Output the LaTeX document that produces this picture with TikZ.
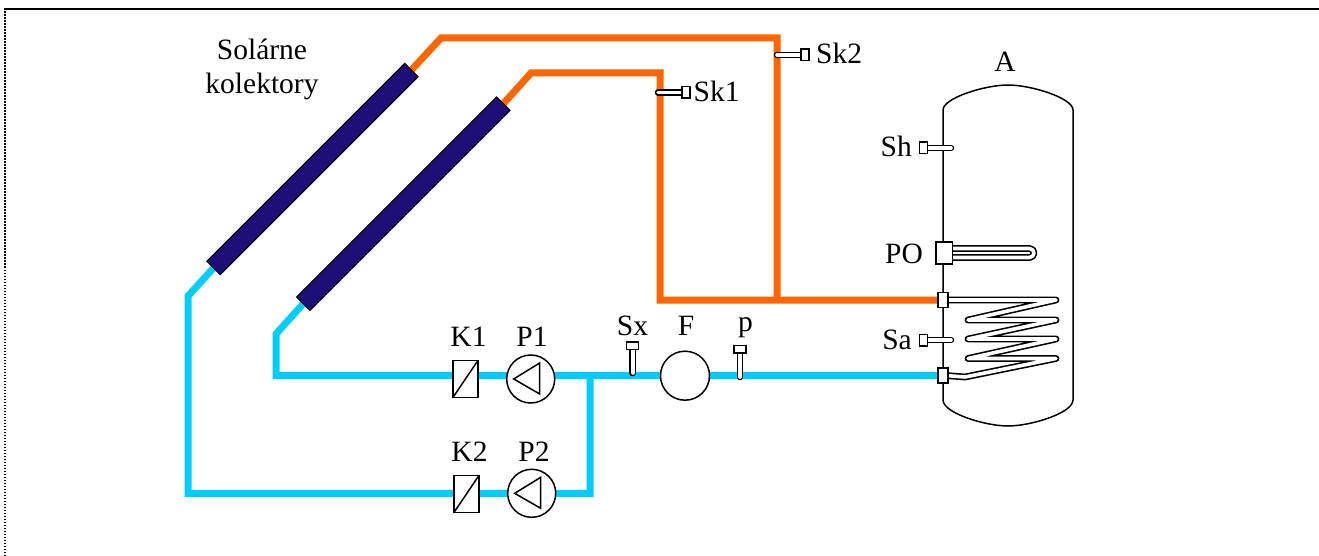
\documentclass[tikz,border=0pt]{standalone}
\usepackage{fontspec}
\setmainfont{Liberation Serif}
\usepackage{xcolor}
\usetikzlibrary{backgrounds}
\definecolor{hotpipe}{RGB}{255,102,0}
\definecolor{coldpipe}{RGB}{0,204,255}
\definecolor{panel}{RGB}{30,15,120}
\tikzset{
  lab/.style={inner sep=0pt,font=\fontsize{29.5}{32}\selectfont,text=black},
  hot/.style={draw=hotpipe,line width=7pt,line join=miter},
  cold/.style={draw=coldpipe,line width=7pt,line join=miter},
  collector/.style={draw=black,line width=1pt,fill=panel,rotate=45,minimum height=19pt,inner sep=0pt,outer sep=0pt},
  valve/.style={draw=black,line width=1.5pt,fill=white,minimum width=25pt,minimum height=37pt,inner sep=0pt,outer sep=0pt},
  pumpbox/.style={circle,draw=black,line width=1.5pt,fill=white,minimum size=48pt,inner sep=0pt,outer sep=0pt},
  socket/.style={draw=black,line width=1.5pt,fill=white,inner sep=0pt,outer sep=0pt},
  probe/.style={draw=black,line width=1.5pt,double=white,double distance=3.6pt,line cap=round},
  tube/.style={draw=black,line width=1.6pt,double=white,double distance=3.6pt,line join=round,line cap=round}
}

\begin{document}
\begin{tikzpicture}[x=1pt,y=-1pt]
    \useasboundingbox (0,0) rectangle (1319,556);

    % frame
    \coordinate (frameA) at (5,556);
    \coordinate (frameB) at (5,9);
    \coordinate (frameC) at (1319,9);
    \draw[line width=1.8pt,dash pattern=on 1.5pt off 1.5pt] (frameA) -- (frameB);
    \draw[line width=2pt] (4,9) -- (frameC);

    % collectors
    \node[collector,minimum width=280pt] (col1) at (312.5,169) {};
    \node[collector,minimum width=283pt] (col2) at (403.3,203.7) {};

    % valves and pumps
    \foreach \vname/\vx/\vy in {k1/465.3/379.2,k2/466.3/494.2} {
      \node[valve] (\vname) at (\vx,\vy) {};
      \draw[line width=1.5pt] (\vname.south west) -- (\vname.north east);
    }
    \foreach \pname/\px/\py in {p1/530.7/379,p2/531.7/493.3} {
      \node[pumpbox] (\pname) at (\px,\py) {};
      \draw[line width=1.5pt,line join=miter] (\px-17,\py) -- (\px+9,\py-16) -- (\px+9,\py+15) -- cycle;
    }
    \node[pumpbox,minimum size=49pt] (filter) at (685,375.7) {};

    % sensors
    \node[socket,minimum width=8pt,minimum height=11.5pt] (sk1) at (686,92.5) {};
    \node[socket,minimum width=8pt,minimum height=11.5pt] (sk2) at (805,55) {};
    \node[socket,minimum width=8pt,minimum height=11.5pt] (sh) at (923.3,148) {};
    \node[socket,minimum width=8pt,minimum height=11.5pt] (sa) at (923.3,340) {};
    \node[socket,minimum width=12pt,minimum height=7.5pt] (sx) at (632.7,345.5) {};
    \node[socket,minimum width=12pt,minimum height=7.5pt] (sp) at (740,349) {};

    % tank fittings
    \node[socket,minimum width=16.5pt,minimum height=22pt] (po) at (944.3,253) {};
    \node[socket,minimum width=10pt,minimum height=15pt] (coilin) at (942.8,300) {};
    \node[socket,minimum width=10pt,minimum height=15pt] (coilout) at (942.8,375.7) {};

    % pipe branches
    \coordinate (joint) at (590,375.7);
    \coordinate (hot1) at (441,38);
    \coordinate (hot2) at (777,38);
    \coordinate (hot3) at (531,73);
    \coordinate (hot4) at (660,73);
    \coordinate (hot5) at (660,300);
    \coordinate (hot6) at (777,300);
    \coordinate (cold1) at (188,296);
    \coordinate (cold2) at (188,493.3);
    \coordinate (cold3) at (590,493.3);
    \coordinate (cold4) at (276,334);
    \coordinate (cold5) at (276,375.7);

    % labels
    \node[lab,anchor=base] (solar1) at (262,60) {Solárne};
    \node[lab,anchor=base] (solar2) at (262,94) {kolektory};
    \node[lab,anchor=base] (lk1) at (468.5,346.5) {K1};
    \node[lab,anchor=base] (lp1) at (532,346.5) {P1};
    \node[lab,anchor=base] (lk2) at (469.5,461) {K2};
    \node[lab,anchor=base] (lp2) at (534,461) {P2};
    \node[lab,anchor=base] (lsx) at (632.5,335) {Sx};
    \node[lab,anchor=base] (lf) at (686,335) {F};
    \node[lab,anchor=base] (lp) at (745.5,331.5) {p};
    \node[lab,anchor=base west] (lsk1) at (693.5,102) {Sk1};
    \node[lab,anchor=base west] (lsk2) at (816,64) {Sk2};
    \node[lab,anchor=base] (la) at (1005,71.5) {A};
    \node[lab,anchor=base east] (lsh) at (912,157) {Sh};
    \node[lab,anchor=base east] (lpo) at (923,263) {PO};
    \node[lab,anchor=base east] (lsa) at (912,349) {Sa};

    \begin{pgfonlayer}{background}
      % tank
      \draw[line width=1.5pt] (943,110) .. controls (943,98) and (985,85) .. (1008,85)
      .. controls (1031,85) and (1073,98) .. (1073,110) -- (1073,400)
      .. controls (1073,413) and (1031,426) .. (1008,426)
      .. controls (985,426) and (943,413) .. (943,400) -- cycle;

      % pipes
      \draw[hot] (col1.east) -- (hot1) -- (hot2) -- (hot6);
      \draw[hot] (col2.east) -- (hot3) -- (hot4) -- (hot5) -- (coilin.west);
      \draw[cold] (col1.west) -- (cold1) -- (cold2) -- (cold3) -- (joint);
      \draw[cold] (col2.west) -- (cold4) -- (cold5) -- (coilout.west);

      % probes
      \draw[probe] (sk1.west) -- (658,92.5);
      \draw[probe] (sk2.west) -- (777,55);
      \draw[probe] (sh.east) -- (951,148);
      \draw[probe] (sa.east) -- (951,340);
      \draw[probe] (sx.south) -- (632.7,373);
      \draw[probe] (sp.south) -- (740,377);

      % heating element and coil
      \draw[tube,rounded corners=4.5pt] (po.east) ++(0,-4.5) -- (1034,248.5) -- (1034,257.5) -- (952,257.5);
      \draw[tube] (coilin.east) -- (1056,300) -- (968,320) -- (1056,320) -- (968,339)
      -- (1056,339) -- (968,358.5) -- (1056,358.5) -- (965,377) -- (coilout.east);
    \end{pgfonlayer}
\end{tikzpicture}
\end{document}
